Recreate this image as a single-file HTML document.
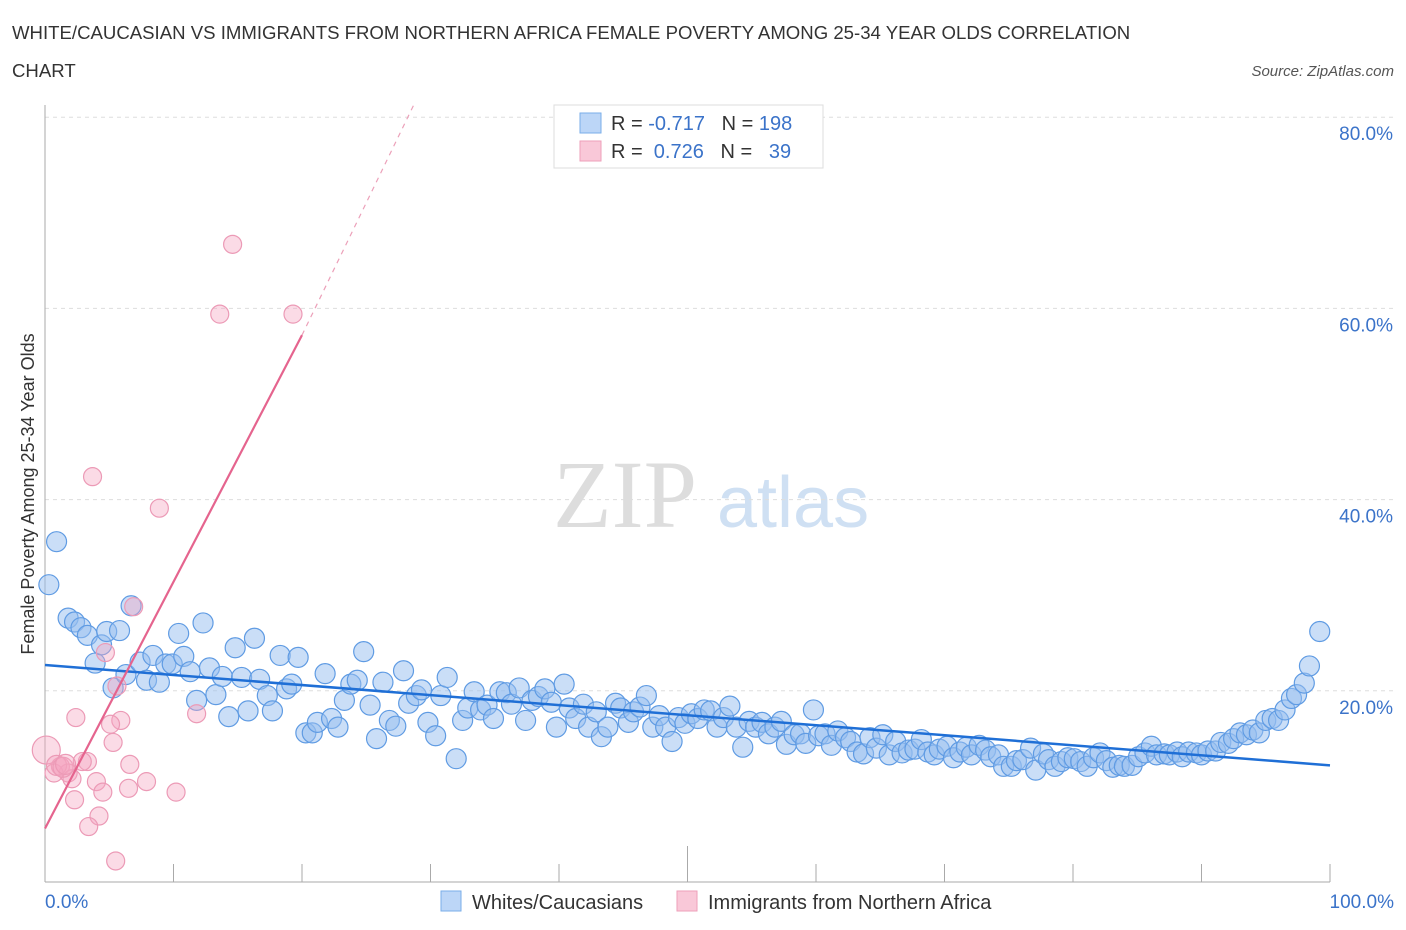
<!DOCTYPE html>
<html><head><meta charset="utf-8"><style>
body{margin:0;background:#fff;font-family:"Liberation Sans",sans-serif;}
svg{display:block}
</style></head><body>
<svg width="1406" height="930" xmlns="http://www.w3.org/2000/svg">
<text x="12" y="39" font-size="18.6" fill="#333">WHITE/CAUCASIAN VS IMMIGRANTS FROM NORTHERN AFRICA FEMALE POVERTY AMONG 25-34 YEAR OLDS CORRELATION</text>
<text x="12" y="77" font-size="18.6" fill="#333">CHART</text>
<text x="1394" y="76" font-size="15" fill="#555" font-style="italic" text-anchor="end">Source: ZipAtlas.com</text>
<g>
<text x="553" y="527" font-size="96" font-family="Liberation Serif,serif" fill="#ddd">ZIP</text>
<text x="717" y="527" font-size="72" fill="#cfe0f3">atlas</text>
</g>
<g id="grid"></g>
<g id="axes"></g>
<g id="marks"></g>
<text transform="translate(34,494) rotate(-90)" font-size="18" fill="#333" text-anchor="middle">Female Poverty Among 25-34 Year Olds</text>
<g>
<rect x="554" y="105" width="269" height="63" fill="#fff" stroke="#ddd"/>
<rect x="580" y="113" width="21" height="20" fill="#bcd6f7" stroke="#7aaee8"/>
<rect x="580" y="141" width="21" height="20" fill="#f9c8d8" stroke="#ee9fba"/>
<text x="611" y="130" font-size="20" fill="#333" xml:space="preserve">R = <tspan fill="#3b73c9">-0.717</tspan>   N = <tspan fill="#3b73c9">198</tspan></text>
<text x="611" y="158" font-size="20" fill="#333" xml:space="preserve">R =  <tspan fill="#3b73c9">0.726</tspan>   N =   <tspan fill="#3b73c9">39</tspan></text>
</g>
<g>
<rect x="441" y="891" width="20" height="20" fill="#bcd6f7" stroke="#7aaee8"/>
<text x="472" y="909" font-size="20" fill="#333">Whites/Caucasians</text>
<rect x="677" y="891" width="20" height="20" fill="#f9c8d8" stroke="#ee9fba"/>
<text x="708" y="909" font-size="20" fill="#333">Immigrants from Northern Africa</text>
</g>
</svg>
<script>
const blueX=[0.9,0.3,1.8,2.3,2.8,3.3,3.9,4.4,4.8,5.8,6.7,5.3,6.3,7.4,7.9,8.4,8.9,9.4,9.9,10.4,10.8,11.3,11.8,12.3,12.8,13.3,13.8,14.3,14.8,15.3,15.8,16.3,16.7,17.3,17.7,18.3,18.8,19.2,19.7,20.3,20.8,21.2,21.8,22.3,22.8,23.3,23.8,24.3,24.8,25.3,25.8,26.3,26.8,27.3,27.9,28.3,28.9,29.3,29.8,30.4,30.8,31.3,32.0,32.5,32.9,33.4,33.9,34.4,34.9,35.4,35.9,36.3,36.9,37.4,37.9,38.4,38.9,39.4,39.8,40.4,40.8,41.3,41.9,42.3,42.9,43.3,43.8,44.4,44.8,45.4,45.8,46.3,46.8,47.3,47.8,48.3,48.8,49.3,49.8,50.3,50.8,51.3,51.8,52.3,52.8,53.3,53.8,54.3,54.8,55.3,55.8,56.3,56.8,57.3,57.7,58.3,58.8,59.2,59.8,60.2,60.7,61.2,61.7,62.3,62.7,63.2,63.7,64.2,64.7,65.2,65.7,66.2,66.7,67.2,67.7,68.2,68.7,69.2,69.6,70.2,70.7,71.2,71.7,72.1,72.7,73.2,73.6,74.2,74.6,75.2,75.6,76.1,76.7,77.1,77.7,78.1,78.6,79.1,79.6,80.1,80.6,81.1,81.6,82.1,82.6,83.1,83.6,84.0,84.6,85.1,85.6,86.1,86.5,87.1,87.5,88.1,88.5,89.0,89.6,90.0,90.5,91.1,91.5,92.1,92.5,93.0,93.5,94.0,94.5,95.0,95.5,96.0,96.5,97.0,97.4,98.0,98.4,99.2];
const blueY=[35.6,31.1,27.6,27.2,26.6,25.8,22.9,24.8,26.2,26.3,28.9,20.3,21.7,23.0,21.1,23.7,20.9,22.8,22.8,26.0,23.6,22.0,19.0,27.1,22.4,19.6,21.5,17.3,24.5,21.4,17.9,25.5,21.2,19.5,17.9,23.7,20.2,20.7,23.5,15.6,15.6,16.7,21.8,17.1,16.2,19.0,20.7,21.1,24.1,18.5,15.0,20.9,16.9,16.3,22.1,18.7,19.5,20.1,16.7,15.3,19.5,21.4,12.9,16.9,18.2,19.9,18.0,18.5,17.1,19.9,19.8,18.6,20.3,16.9,19.0,19.4,20.2,18.8,16.2,20.7,18.2,17.1,18.6,16.2,17.8,15.2,16.2,18.7,18.2,16.7,17.8,18.3,19.5,16.2,17.4,16.2,14.7,17.2,16.6,17.6,17.1,18.0,17.9,16.2,17.2,18.4,16.2,14.1,16.8,16.2,16.7,15.5,16.2,16.8,14.4,15.4,15.5,14.5,18.0,15.3,15.5,14.3,15.8,15.1,14.7,13.6,13.4,15.1,14.0,15.4,13.3,14.7,13.5,13.8,13.9,14.9,13.6,13.3,13.9,14.2,13.0,13.6,14.1,13.3,14.3,13.8,13.1,13.3,12.1,12.1,12.7,12.8,14.0,11.7,13.4,12.8,12.1,12.6,13.0,12.9,12.6,12.1,13.0,13.5,12.7,12.0,12.2,12.1,12.2,13.1,13.5,14.2,13.3,13.4,13.3,13.6,13.1,13.6,13.5,13.3,13.7,13.7,14.6,14.5,15.0,15.6,15.4,15.9,15.6,16.9,17.1,16.9,18.0,19.2,19.6,20.8,22.6,26.2];
const pinkX=[14.6,13.6,19.3,3.7,8.9,6.9,4.7,5.6,11.8,2.4,5.9,5.1,5.3,3.3,2.9,6.6,1.2,1.8,0.7,2.1,4.0,7.9,6.5,10.2,4.5,2.3,4.2,3.4,5.5,0.1,0.9,1.4,1.6];
const pinkY=[66.7,59.4,59.4,42.4,39.1,28.8,24.0,20.5,17.6,17.2,16.9,16.5,14.6,12.6,12.6,12.3,12.1,11.4,11.4,10.8,10.5,10.5,9.8,9.4,9.4,8.6,6.9,5.8,2.2,13.8,12.2,12.0,12.3];
const pinkR=[9,9,9,9,9,9,9,9,9,9,9,9,9,9,9,9,9,9,9,9,9,9,9,9,9,9,9,9,9,14,10,10,10];
const blueTrend=[22.7,12.2];
const pinkTrend=[5.6,2.58];
const yTicks=[20,40,60,80];
const yTickLabels=["20.0%","40.0%","60.0%","80.0%"];
const xTickLabels=["0.0%","100.0%"];

const NS="http://www.w3.org/2000/svg";
const X0=45,X1=1330,Y0=882,PY=9.56;
const sx=v=>X0+(X1-X0)*v/100, sy=v=>Y0-v*PY;
function mk(tag,attrs,parent){const e=document.createElementNS(NS,tag);for(const k in attrs)e.setAttribute(k,attrs[k]);parent.appendChild(e);return e;}
const grid=document.getElementById('grid'),axes=document.getElementById('axes'),marks=document.getElementById('marks');
yTicks.forEach((t,i)=>{
 const l=mk('line',{x1:X0,x2:1394,y1:sy(t),y2:sy(t),stroke:'#ddd','stroke-dasharray':'4,4'},grid);
 
 
 const tx=mk('text',{x:1393,y:sy(t)+23,'font-size':19,fill:'#3b73c9','text-anchor':'end'},grid);
 tx.textContent=yTickLabels[i];
 
 
});
const ax=mk('line',{x1:X0,x2:X0,y1:105,y2:Y0,stroke:'#aaa'},axes);


const xa=mk('line',{x1:X0,x2:X1,y1:Y0,y2:Y0,stroke:'#aaa'},axes);


for(let i=0;i<=10;i++){
 const t=mk('line',{x1:sx(i*10),x2:sx(i*10),y1:i==5?846:864,y2:Y0,stroke:'#aaa'},axes);
 
 
}
[[0,'start',45],[100,'end',1394]].forEach((d,i)=>{
 const t=mk('text',{x:d[2],y:908,'font-size':19,fill:'#3b73c9','text-anchor':d[1]},axes);
 t.textContent=xTickLabels[i];
 
 
});
blueX.forEach((x,i)=>{
 const c=mk('circle',{cx:sx(x),cy:sy(blueY[i]),r:10,fill:'rgba(150,190,240,0.5)',stroke:'#5f9be3','stroke-width':1.2},marks);
 
 
});
pinkX.forEach((x,i)=>{
 const c=mk('circle',{cx:sx(x),cy:sy(pinkY[i]),r:pinkR[i],fill:'rgba(244,165,192,0.4)',stroke:'#ec9ab6','stroke-width':1.2},marks);
 
 
});
const bt=mk('line',{x1:sx(0),y1:sy(blueTrend[0]),x2:sx(100),y2:sy(blueTrend[1]),stroke:'#1f6fd6','stroke-width':2.5},marks);


const pt=mk('line',{x1:sx(0),y1:sy(pinkTrend[0]),x2:sx(20),y2:sy(pinkTrend[0]+pinkTrend[1]*20),stroke:'#e5648e','stroke-width':2.2},marks);


const xe=(80-pinkTrend[0])/pinkTrend[1];
const pd=mk('line',{x1:sx(20),y1:sy(pinkTrend[0]+pinkTrend[1]*20),x2:sx(xe),y2:sy(80)-16,stroke:'#eca0b9','stroke-width':1.2,'stroke-dasharray':'5,5'},marks);


</script>
</body></html>
